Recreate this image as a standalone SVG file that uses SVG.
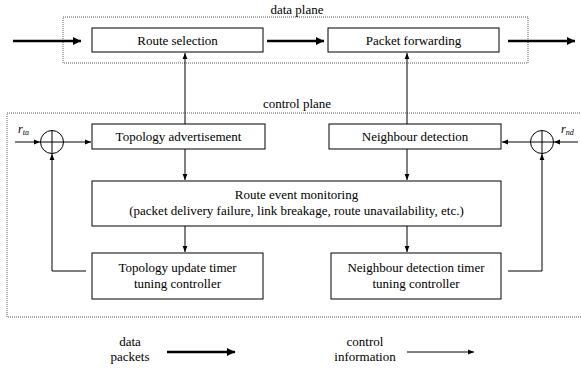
<svg xmlns="http://www.w3.org/2000/svg" width="581" height="369" viewBox="0 0 581 369">
<defs>
<marker id="thick" viewBox="0 0 10 10" refX="10" refY="5" markerWidth="3.2" markerHeight="3.2" orient="auto" markerUnits="strokeWidth"><path d="M0,0 L10,5 L0,10 Z" fill="#000"/></marker>
<marker id="thin" viewBox="0 0 10 10" refX="10" refY="5" markerWidth="6" markerHeight="6" orient="auto" markerUnits="userSpaceOnUse"><path d="M0,1 L10,5 L0,9 Z" fill="#000"/></marker>
</defs>
<style>
.box{fill:#fff;stroke:#000;stroke-width:1}
.plane{fill:none;stroke:#333;stroke-width:0.8;stroke-dasharray:1,1}
text{font-family:'Liberation Serif','Times New Roman','DejaVu Serif',serif}
.t{font-size:13px;fill:#000;text-anchor:middle}
.i{font-style:italic;fill:#000}
.thick{stroke:#000;stroke-width:2.5;fill:none;marker-end:url(#thick)}
.thin{stroke:#000;stroke-width:1;fill:none;marker-end:url(#thin)}
.line{stroke:#000;stroke-width:1;fill:none}
.sum{fill:#fff;stroke:#000;stroke-width:1}
</style>
<g font-family="Liberation Serif, Times New Roman, DejaVu Serif, serif">
<rect class="plane" x="63" y="17" width="465" height="46"/>
<text class="t" x="297" y="14">data plane</text>
<rect class="plane" x="7" y="113" width="580" height="204"/>
<text class="t" x="297" y="108">control plane</text>
<g id="connectors">
<line class="thick" x1="13" y1="41" x2="81" y2="41"/>
<line class="thick" x1="267" y1="41" x2="324" y2="41"/>
<line class="thick" x1="508" y1="41" x2="575" y2="41"/>
<line class="thin" x1="185" y1="124" x2="185" y2="53"/>
<line class="thin" x1="407" y1="124" x2="407" y2="53"/>
<line class="thin" x1="15" y1="142" x2="40" y2="142"/>
<line class="thin" x1="64" y1="142" x2="91" y2="142"/>
<line class="thin" x1="578" y1="142" x2="554" y2="142"/>
<line class="thin" x1="530" y1="142" x2="502" y2="142"/>
<line class="thin" x1="185" y1="149" x2="185" y2="180"/>
<line class="thin" x1="407" y1="149" x2="407" y2="180"/>
<line class="thin" x1="185" y1="226" x2="185" y2="252"/>
<line class="thin" x1="407" y1="226" x2="407" y2="252"/>
<polyline class="thin" points="86,271 52,271 52,154"/>
<polyline class="thin" points="508,271 542,271 542,154"/>
</g>
<g id="route-selection"><rect class="box" x="92" y="28" width="171" height="24"/><text class="t" x="177.5" y="45">Route selection</text></g>
<g id="packet-forwarding"><rect class="box" x="328" y="28" width="171" height="24"/><text class="t" x="413.5" y="45">Packet forwarding</text></g>
<g id="topology-advertisement"><rect class="box" x="92" y="124" width="173" height="25"/><text class="t" x="178.5" y="141">Topology advertisement</text></g>
<g id="neighbour-detection"><rect class="box" x="329" y="124" width="172" height="25"/><text class="t" x="415" y="141">Neighbour detection</text></g>
<g id="route-event-monitoring"><rect class="box" x="92" y="181" width="409" height="45"/><text class="t" x="296.5" y="199">Route event monitoring</text><text class="t" x="296.5" y="215">(packet delivery failure, link breakage, route unavailability, etc.)</text></g>
<g id="topology-timer"><rect class="box" x="92" y="253" width="171" height="46"/><text class="t" x="177.5" y="272">Topology update timer</text><text class="t" x="177.5" y="288">tuning controller</text></g>
<g id="neighbour-timer"><rect class="box" x="331" y="253" width="170" height="46"/><text class="t" x="416" y="272">Neighbour detection timer</text><text class="t" x="416" y="288">tuning controller</text></g>
<g id="sum-left"><circle class="sum" cx="52" cy="142" r="11.5"/><line class="line" x1="40.5" y1="142" x2="63.5" y2="142"/><line class="line" x1="52" y1="130.5" x2="52" y2="153.5"/><text class="i" x="18" y="133" font-size="12">r<tspan font-size="8" dy="2">ta</tspan></text></g>
<g id="sum-right"><circle class="sum" cx="542" cy="142" r="11.5"/><line class="line" x1="530.5" y1="142" x2="553.5" y2="142"/><line class="line" x1="542" y1="130.5" x2="542" y2="153.5"/><text class="i" x="561" y="133" font-size="12">r<tspan font-size="8" dy="2">nd</tspan></text></g>
<g id="legend">
<text class="t" x="130" y="346">data</text><text class="t" x="130" y="361">packets</text>
<line class="thick" x1="167" y1="352" x2="235" y2="352"/>
<text class="t" x="365" y="346">control</text><text class="t" x="365" y="361">information</text>
<line class="thin" x1="407" y1="352" x2="474" y2="352"/>
</g>
</g>
</svg>
